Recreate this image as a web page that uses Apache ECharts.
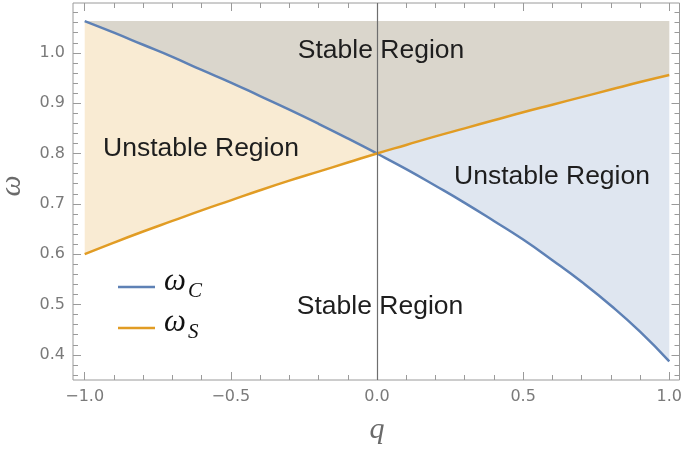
<!DOCTYPE html>
<html><head><meta charset="utf-8">
<script src="https://cdn.jsdelivr.net/npm/echarts@6/dist/echarts.min.js"></script>
<style>html,body{margin:0;padding:0;background:#fff}#c{width:685px;height:449px}</style>
</head><body><div id="c"></div>
<script>
const q = [-1,-0.9,-0.8,-0.7,-0.6,-0.5,-0.4,-0.3,-0.2,-0.1,0,0.1,0.2,0.3,0.4,0.5,0.6,0.7,0.8,0.9,1];
const omegaC = [1.063,1.040,1.016,0.992,0.966,0.941,0.914,0.887,0.859,0.830,0.800,0.769,0.736,0.702,0.666,0.629,0.588,0.545,0.498,0.446,0.387];
const omegaS = [0.600,0.623,0.645,0.666,0.687,0.707,0.727,0.746,0.764,0.782,0.800,0.817,0.834,0.850,0.866,0.882,0.897,0.912,0.927,0.942,0.956];
const fillTop = 1.063;
const xMajor = [-1,-0.5,0,0.5,1];
const xMinor = [-0.9,-0.8,-0.7,-0.6,-0.4,-0.3,-0.2,-0.1,0.1,0.2,0.3,0.4,0.6,0.7,0.8,0.9];
const yMajor = [0.4,0.5,0.6,0.7,0.8,0.9,1.0];
const yMinor = [0.36,0.38,0.42,0.44,0.46,0.48,0.52,0.54,0.56,0.58,0.62,0.64,0.66,0.68,0.72,0.74,0.76,0.78,0.82,0.84,0.86,0.88,0.92,0.94,0.96,0.98,1.02,1.04,1.06,1.08];
const regionLabels = [
  {text:'Stable Region', x:381, y:51},
  {text:'Unstable Region', x:201, y:149},
  {text:'Unstable Region', x:552, y:177},
  {text:'Stable Region', x:380, y:307}
];
const seriesNames = ['C','S'];

const XMIN=-1.04, XMAX=1.035, YMIN=0.35, YMAX=1.099;
const frameColor = '#9a9a9a';
const labelColor = '#7a7a7a';
const fmt = v => (v<0?'\u2212':'') + Math.abs(v).toFixed(1);

function xAx(pos, vals, len, showLabel){
  return {type:'value', position:pos, min:XMIN, max:XMAX,
    axisLine:{show:false, onZero:false}, splitLine:{show:false},
    axisTick:{show:true, inside:true, length:len, customValues:vals, lineStyle:{color:frameColor,width:1}},
    axisLabel:{show:showLabel, customValues:vals, formatter:fmt, margin:9, color:labelColor, fontFamily:'DejaVu Sans', fontSize:16}};
}
function yAx(pos, vals, len, showLabel){
  return {type:'value', position:pos, min:YMIN, max:YMAX,
    axisLine:{show:false, onZero:false}, splitLine:{show:false},
    axisTick:{show:true, inside:true, length:len, customValues:vals, lineStyle:{color:frameColor,width:1}},
    axisLabel:{show:showLabel, customValues:vals, formatter:fmt, margin:8, color:labelColor, fontFamily:'DejaVu Sans', fontSize:16}};
}
function fillSeries(curve, color){
  return {type:'custom', xAxisIndex:0, yAxisIndex:0, silent:true, z:1,
    data:[[q[0], curve[0]]],
    renderItem:function(params, api){
      const pts = q.map((x,i)=>api.coord([x, curve[i]]));
      pts.push(api.coord([q[q.length-1], fillTop]));
      pts.push(api.coord([q[0], fillTop]));
      return {type:'polygon', shape:{points:pts}, style:{fill:color, stroke:null}};
    }};
}
const chart = echarts.init(document.getElementById('c'), null, {renderer:'canvas'});
const graphics = regionLabels.map(l=>({type:'text', x:l.x, y:l.y, z:100,
  style:{text:l.text, fill:'#1e1e1e', font:'26.5px "Liberation Sans"', align:'center', verticalAlign:'middle'}}));
// legend
const legendRows = [{y:287, color:'#5E81B5', sub:seriesNames[0]},{y:328, color:'#E19C24', sub:seriesNames[1]}];
legendRows.forEach(r=>{
  graphics.push({type:'line', z:100, shape:{x1:118, y1:r.y, x2:155, y2:r.y}, style:{stroke:r.color, lineWidth:2.5}});
  graphics.push({type:'text', z:100, x:164, y:r.y-5, style:{text:'\u03c9', fill:'#111', font:'italic 31px "Liberation Serif"', align:'left', verticalAlign:'middle'}});
  graphics.push({type:'text', z:100, x:188, y:r.y+4, style:{text:r.sub, fill:'#111', font:'italic 21px "Liberation Serif"', align:'left', verticalAlign:'middle'}});
});
// axis titles
graphics.push({type:'text', z:100, x:12, y:186, rotation:Math.PI/2, style:{text:'\u03c9', fill:'#6a6a6a', font:'italic 30px "Liberation Serif"', align:'center', verticalAlign:'middle'}});
graphics.push({type:'text', z:100, x:377, y:430, style:{text:'q', fill:'#6a6a6a', font:'italic 30px "Liberation Serif"', align:'center', verticalAlign:'middle'}});

chart.setOption({
  animation:false,
  backgroundColor:'#fff',
  grid:{left:73, top:3, width:610, height:377, show:true, borderColor:frameColor, borderWidth:1, backgroundColor:'transparent'},
  xAxis:[xAx('bottom', xMajor, 8, true), xAx('bottom', xMinor, 5, false), xAx('top', xMajor, 8, false), xAx('top', xMinor, 5, false)],
  yAxis:[yAx('left', yMajor, 8, true), yAx('left', yMinor, 5, false), yAx('right', yMajor, 8, false), yAx('right', yMinor, 5, false)],
  series:[
    fillSeries(omegaS, 'rgba(225,156,36,0.2)'),
    fillSeries(omegaC, 'rgba(94,129,181,0.2)'),
    {name:'\u03c9C', type:'line', xAxisIndex:0, yAxisIndex:0, data:q.map((x,i)=>[x, omegaC[i]]), smooth:0.5, showSymbol:false, z:3,
      lineStyle:{color:'#5E81B5', width:2.5}, itemStyle:{color:'#5E81B5'},
      markLine:{silent:true, symbol:'none', label:{show:false}, lineStyle:{color:'#6e6e6e', width:1.2, type:'solid'}, data:[{xAxis:0}]}},
    {name:'\u03c9S', type:'line', xAxisIndex:0, yAxisIndex:0, data:q.map((x,i)=>[x, omegaS[i]]), smooth:0.5, showSymbol:false, z:3,
      lineStyle:{color:'#E19C24', width:2.5}, itemStyle:{color:'#E19C24'}}
  ],
  graphic:graphics
});
</script></body></html>
